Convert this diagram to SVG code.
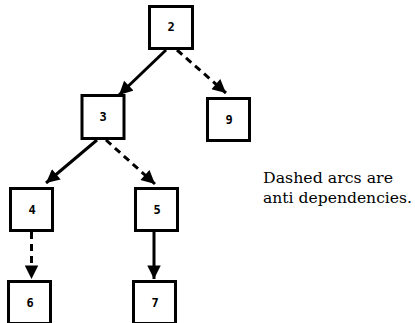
<svg xmlns="http://www.w3.org/2000/svg" width="415" height="323" viewBox="0 0 415 323">
<style>
.box{fill:#fff;stroke:#000;stroke-width:3}
.lbl{font-family:"DejaVu Sans Mono","Liberation Mono",monospace;font-weight:bold;font-size:12px;text-anchor:middle}
.arc{stroke:#000;stroke-width:3;fill:none}
.dash{stroke-dasharray:7,5}
.note{font-family:"DejaVu Serif","Liberation Serif",serif;font-size:15px}
</style>
<defs>
<marker id="ah" viewBox="0 0 10 10" refX="10" refY="5" markerWidth="5" markerHeight="4.5" markerUnits="strokeWidth" orient="auto">
<path d="M0,0 L10,5 L0,10 Z" fill="#000"/>
</marker>
</defs>
<rect width="415" height="323" fill="#fff"/>
<g id="connectors">
<line class="arc" x1="166" y1="50" x2="119" y2="95" marker-end="url(#ah)"/>
<line class="arc dash" x1="177" y1="50" x2="226" y2="93" marker-end="url(#ah)"/>
<line class="arc" x1="97" y1="140" x2="46" y2="183" marker-end="url(#ah)"/>
<line class="arc dash" x1="106" y1="140" x2="155" y2="184" marker-end="url(#ah)"/>
<line class="arc dash" x1="31.5" y1="232" x2="31.5" y2="279" marker-end="url(#ah)"/>
<line class="arc" x1="154" y1="232" x2="154" y2="279" marker-end="url(#ah)"/>
</g>
<g id="n2"><rect class="box" x="149.5" y="6.5" width="43" height="42"/><text class="lbl" x="171" y="31">2</text></g>
<g id="n9"><rect class="box" x="207.5" y="98.5" width="42" height="42"/><text class="lbl" x="229" y="124">9</text></g>
<g id="n3"><rect class="box" x="82" y="95.5" width="42" height="43"/><text class="lbl" x="103" y="121">3</text></g>
<g id="n4"><rect class="box" x="10.5" y="188.5" width="42" height="42"/><text class="lbl" x="32" y="214">4</text></g>
<g id="n5"><rect class="box" x="135.5" y="188.5" width="42" height="42"/><text class="lbl" x="157" y="214">5</text></g>
<g id="n6"><rect class="box" x="8.5" y="281.5" width="42" height="42"/><text class="lbl" x="30" y="307">6</text></g>
<g id="n7"><rect class="box" x="133.5" y="281.5" width="42" height="42"/><text class="lbl" x="155" y="307">7</text></g>
<g id="note">
<text class="note" x="263" y="183" textLength="130" lengthAdjust="spacingAndGlyphs">Dashed arcs are</text>
<text class="note" x="263" y="203" textLength="149" lengthAdjust="spacingAndGlyphs">anti dependencies.</text>
</g>
</svg>
